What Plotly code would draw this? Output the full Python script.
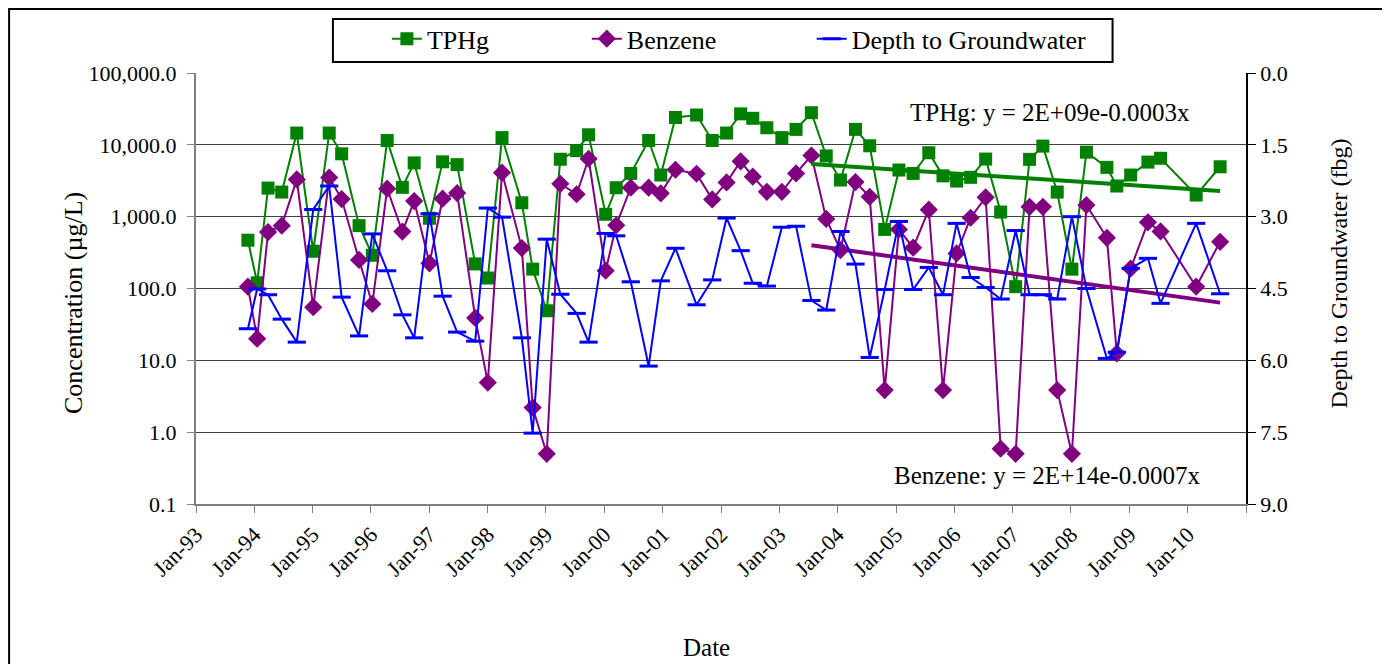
import numpy as np
import pandas as pd
import plotly.graph_objects as go

# ---------------- data ----------------
dates = ["1993-11-22", "1994-01-19", "1994-03-28", "1994-06-22", "1994-09-24", "1995-01-05",
         "1995-04-15", "1995-07-02", "1995-10-19", "1996-01-10", "1996-04-12", "1996-07-16",
         "1996-09-28", "1997-01-02", "1997-03-25", "1997-06-24", "1997-10-15", "1998-01-02",
         "1998-04-01", "1998-08-03", "1998-10-10", "1999-01-06", "1999-04-01", "1999-07-12",
         "1999-09-25", "2000-01-10", "2000-03-16", "2000-06-15", "2000-10-05", "2000-12-20",
         "2001-03-22", "2001-08-01", "2001-11-07", "2002-02-05", "2002-05-04", "2002-07-19",
         "2002-10-15", "2003-01-17", "2003-04-16", "2003-07-21", "2003-10-22", "2004-01-19",
         "2004-04-22", "2004-07-20", "2004-10-22", "2005-01-19", "2005-04-18", "2005-07-25",
         "2005-10-22", "2006-01-15", "2006-04-13", "2006-07-16", "2006-10-18", "2007-01-20",
         "2007-04-17", "2007-07-09", "2007-10-07", "2008-01-07", "2008-04-07", "2008-08-13",
         "2008-10-14", "2009-01-09", "2009-04-27", "2009-07-15", "2010-02-23", "2010-07-23"]

tphg = [470, 120, 2500, 2200, 14600, 330, 14600, 7500, 750, 290, 11500, 2560,
        5600, 950, 5800, 5300, 220, 140, 12600, 1560, 186, 49, 6300, 8300,
        13800, 1080, 2530, 4000, 11500, 3800, 24000, 26000, 11500, 14600, 27000, 23400,
        17300, 12600, 16400, 28000, 7000, 3240, 16400, 9700, 665, 4460, 4000, 7760,
        3700, 3130, 3530, 6340, 1160, 106, 6280, 9600, 2200, 186, 7900, 4860,
        2670, 3800, 5750, 6500, 2000, 4950]

benzene = [106, 20, 610, 750, 3300, 55, 3500, 1760, 250, 61, 2450, 620,
           1650, 224, 1780, 2130, 39, 4.9, 4100, 365, 2.2, 0.5, 2870, 2050,
           6400, 177, 760, 2530, 2530, 2110, 4500, 3960, 1740, 3000, 5900, 3600,
           2220, 2220, 4000, 7100, 930, 343, 3030, 1890, 3.85, 665, 370, 1250,
           3.85, 308, 966, 1860, 0.59, 0.5, 1370, 1370, 3.85, 0.5, 1450, 508,
           12.5, 190, 833, 624, 106, 447]

depth = [5.34, 4.51, 4.63, 5.14, 5.62, 2.85, 2.36, 4.68, 5.49, 3.36, 4.13, 5.05,
         5.53, 2.94, 4.66, 5.41, 5.60, 2.82, 3.01, 5.53, 7.52, 3.47, 4.62, 5.02,
         5.62, 3.35, 3.40, 4.36, 6.12, 4.34, 3.66, 4.84, 4.32, 3.03, 3.71, 4.39,
         4.45, 3.22, 3.20, 4.75, 4.95, 3.31, 3.99, 5.94, 4.52, 3.10, 4.52, 4.06,
         4.63, 3.14, 4.27, 4.48, 4.72, 3.29, 4.63, 4.63, 4.72, 3.00, 4.50, 5.96,
         5.83, 4.08, 3.87, 4.81, 3.14, 4.61]

trend_start = "2003-07-21"

x_tick_dates = ["1993-01-01", "1994-01-01", "1995-01-01", "1996-01-01", "1997-01-01",
                "1998-01-01", "1999-01-01", "2000-01-01", "2001-01-01", "2002-01-01",
                "2003-01-01", "2004-01-01", "2005-01-01", "2006-01-01", "2007-01-01",
                "2008-01-01", "2009-01-01", "2010-01-01", "2011-01-01"]
x_tick_labels = ["Jan-93", "Jan-94", "Jan-95", "Jan-96", "Jan-97", "Jan-98", "Jan-99",
                 "Jan-00", "Jan-01", "Jan-02", "Jan-03", "Jan-04", "Jan-05", "Jan-06",
                 "Jan-07", "Jan-08", "Jan-09", "Jan-10", ""]

y_tick_vals = [0.1, 1, 10, 100, 1000, 10000, 100000]
y_tick_labels = ["0.1", "1.0", "10.0", "100.0", "1,000.0", "10,000.0", "100,000.0"]
y2_tick_vals = [0, 1.5, 3.0, 4.5, 6.0, 7.5, 9.0]
y2_tick_labels = ["0.0", "1.5", "3.0", "4.5", "6.0", "7.5", "9.0"]

tphg_eq = "TPHg: y = 2E+09e-0.0003x"
benz_eq = "Benzene: y = 2E+14e-0.0007x"

# ---------------- trendlines (exponential fit, from trend_start) ----------------
d = pd.to_datetime(dates)
mask = d >= pd.Timestamp(trend_start)
EPOCH = pd.Timestamp("1899-12-30")
days = ((d - EPOCH).days).to_numpy(dtype=float)


def exp_fit(vals):
    v = np.asarray(vals, dtype=float)
    b, a = np.polyfit(days[mask], np.log(v[mask]), 1)
    xs = np.linspace(days[mask].min(), days[mask].max(), 50)
    xd = EPOCH + pd.to_timedelta(xs, unit="D")
    return xd, np.exp(a + b * xs)


tx, ty = exp_fit(tphg)
bx, by = exp_fit(benzene)

FONT = "Liberation Serif"
GREEN = "#008000"
PURPLE = "#800080"
BLUE = "#0000FF"

fig = go.Figure()
fig.add_trace(go.Scatter(x=dates, y=tphg, name="TPHg", mode="lines+markers", legend="legend",
                         line=dict(color=GREEN, width=2),
                         marker=dict(symbol="square", size=13, color=GREEN)))
fig.add_trace(go.Scatter(x=dates, y=benzene, name="Benzene", mode="lines+markers",
                         legend="legend2", line=dict(color=PURPLE, width=2),
                         marker=dict(symbol="diamond", size=14, color=PURPLE)))
fig.add_trace(go.Scatter(x=dates, y=depth, name="Depth to Groundwater", mode="lines+markers",
                         legend="legend3", yaxis="y2", line=dict(color=BLUE, width=2),
                         marker=dict(symbol="line-ew", size=13, color=BLUE,
                                     line=dict(color=BLUE, width=3))))
fig.add_trace(go.Scatter(x=tx, y=ty, mode="lines", showlegend=False, hoverinfo="skip",
                         line=dict(color=GREEN, width=4)))
fig.add_trace(go.Scatter(x=bx, y=by, mode="lines", showlegend=False, hoverinfo="skip",
                         line=dict(color=PURPLE, width=4)))

leg_common = dict(orientation="h", xanchor="left", y=1.134, yanchor="top",
                  borderwidth=0, bgcolor="rgba(0,0,0,0)",
                  font=dict(family=FONT, size=26))

fig.update_layout(
    width=1382, height=656,
    margin=dict(l=188, r=143.5, t=65, b=160, autoexpand=False),
    paper_bgcolor="white", plot_bgcolor="white",
    font=dict(family=FONT, size=22, color="black"),
    showlegend=True,
    legend=dict(x=0.1818, **leg_common),
    legend2=dict(x=0.3722, **leg_common),
    legend3=dict(x=0.5864, **leg_common),
    xaxis=dict(type="date", range=["1993-01-01", "2011-01-01"],
               tickvals=x_tick_dates, ticktext=x_tick_labels, tickangle=-45,
               ticks="outside", ticklen=7, tickcolor="#808080", tickwidth=1,
               showline=True, linecolor="#808080", linewidth=2, showgrid=False,
               zeroline=False, tickfont=dict(family=FONT, size=22)),
    yaxis=dict(type="log", range=[-1, 5], tickvals=y_tick_vals, ticktext=y_tick_labels,
               ticks="outside", ticklen=7, tickcolor="#808080", ticklabelstandoff=6,
               showline=True, linecolor="#808080", linewidth=2,
               showgrid=True, gridcolor="#404040", gridwidth=1, zeroline=False,
               tickfont=dict(family=FONT, size=22)),
    yaxis2=dict(overlaying="y", side="right", range=[9, 0], tickvals=y2_tick_vals,
                ticktext=y2_tick_labels, ticks="outside", ticklen=8, tickcolor="black",
                showline=True, linecolor="black", linewidth=1.5, showgrid=False,
                zeroline=False, tickfont=dict(family=FONT, size=22)),
)

ann = dict(xref="paper", yref="paper", showarrow=False, xanchor="center", yanchor="middle")
fig.add_annotation(text="Concentration (µg/L)", x=-0.1167, y=0.4675, textangle=-90,
                   font=dict(family=FONT, size=26), **ann)
fig.add_annotation(text="Depth to Groundwater (fbg)", x=1.089, y=0.536, textangle=-90,
                   font=dict(family=FONT, size=24), **ann)
fig.add_annotation(text="Date", x=0.4866, y=-0.334, font=dict(family=FONT, size=25), **ann)
fig.add_annotation(text=tphg_eq, x=0.8138, y=0.9095, font=dict(family=FONT, size=25), **ann)
fig.add_annotation(text=benz_eq, x=0.81, y=0.065, font=dict(family=FONT, size=25), **ann)

# legend box outline
fig.add_shape(type="rect", xref="paper", yref="paper", x0=0.1304, x1=0.8729,
              y0=1.0255, y1=1.1253, line=dict(color="black", width=2), layer="below")
# outer chart frame
fig.add_shape(type="rect", xref="paper", yref="paper", x0=-0.1780, x1=1.1309,
              y0=-0.45, y1=1.1485, line=dict(color="black", width=2), layer="below")

fig.write_html("out.html")
